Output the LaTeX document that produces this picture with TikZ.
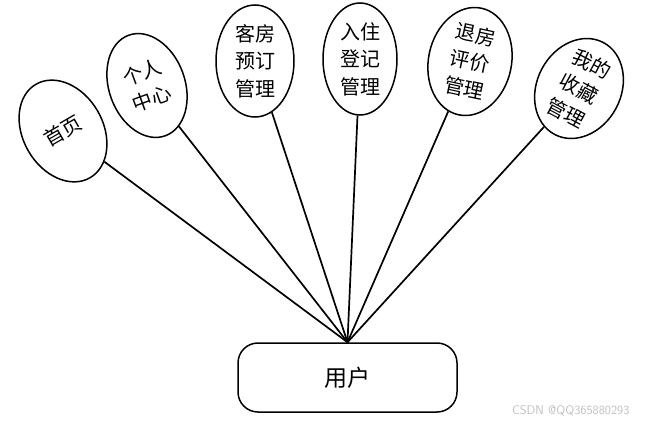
\documentclass[tikz,border=0pt]{standalone}
\usepackage{fontspec}
\newfontfamily\cjk{Noto Sans CJK SC}
\usetikzlibrary{shapes.geometric}
\begin{document}
\begin{tikzpicture}[x=1pt,y=-1pt,
  bubble/.style={draw,ellipse,line width=1.5pt,inner sep=0pt,align=center,
    font=\cjk\fontsize{20}{27.5}\selectfont},
  link/.style={line width=1.7pt},
  userbox/.style={draw,rounded corners=20pt,line width=1.5pt,minimum width=219pt,
    minimum height=69pt,font=\cjk\fontsize{23}{26}\selectfont}]
\useasboundingbox (0,0) rectangle (651,425);
\node[userbox] (user) at (347.5,377.5) {用户};
\node[bubble,minimum width=80pt,minimum height=108pt,rotate=30] (e1) at (63,131) {首页};
\node[bubble,minimum width=76pt,minimum height=107pt,rotate=20] (e2) at (147,85.5) {个人\\中心};
\node[bubble,minimum width=78pt,minimum height=112pt] (e3) at (255,61) {客房\\预订\\管理};
\node[bubble,minimum width=74pt,minimum height=112pt] (e4) at (360,59) {入住\\登记\\管理};
\node[bubble,minimum width=83pt,minimum height=109pt,rotate=-12] (e5) at (470,61.5) {退房\\评价\\管理};
\node[bubble,minimum width=84pt,minimum height=104pt,rotate=-28] (e6) at (579,88.5) {我的\\收藏\\管理};
\foreach \e in {e1,e2,e3,e4,e5,e6} \draw[link] (\e) -- (user.north);
\node[text=black!25,font=\fontsize{12.5}{14}\selectfont\sffamily,anchor=east] (wm) at (633,411) {CSDN @QQ365880293};
\end{tikzpicture}
\end{document}
